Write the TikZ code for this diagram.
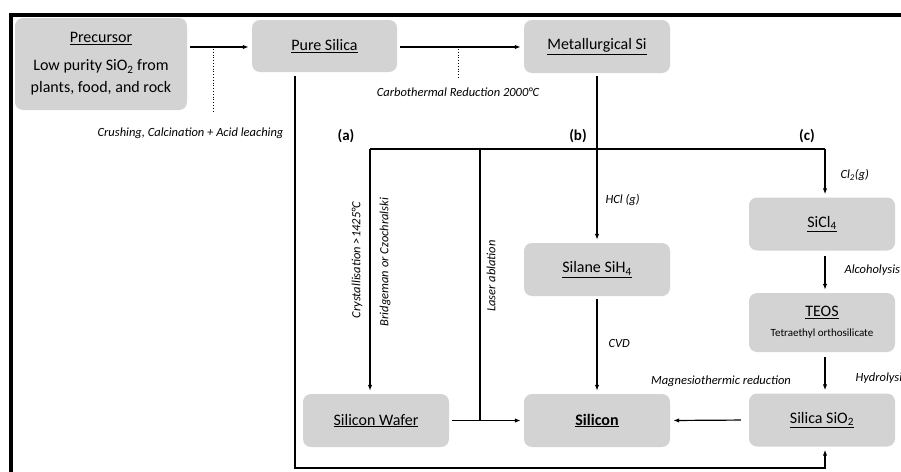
\documentclass[tikz,border=0pt]{standalone}
\usepackage{fontspec}
\setmainfont{Carlito}
\usetikzlibrary{arrows.meta,positioning}
\definecolor{boxgray}{RGB}{211,211,211}
\tikzset{
    stagebox/.style={rounded corners=8pt, fill=boxgray, align=center,
        minimum width=146pt, minimum height=53pt, font=\fontsize{16}{19}\selectfont},
    proc/.style={font=\fontsize{12.5}{14}\selectfont\itshape},
    branch/.style={font=\fontsize{15}{17}\selectfont\bfseries},
    flow/.style={line width=1.2pt},
    arr/.style={flow, -{Latex[length=6pt,width=4.5pt]}, shorten >=3pt},
}
\begin{document}
\begin{tikzpicture}[x=1pt,y=-1pt]
    \useasboundingbox (0,0) rectangle (901,471);
    \clip (0,0) rectangle (901,471);

    % Frame
    \draw[line width=4pt] (11,473) -- (11,14.5) -- (903,14.5);

    % Stages
    \node[stagebox, minimum width=172pt, minimum height=92pt, font=\fontsize{16}{22}\selectfont] (prec) at (101,64)
        {\underline{Precursor}\\[6pt]Low purity SiO\textsubscript{2} from\\plants, food, and rock};
    \node[stagebox, minimum width=145pt, minimum height=52pt] (pure) at (324.5,46) {\underline{Pure Silica}};
    \node[stagebox] (metal) at (597,46.5) {\underline{Metallurgical Si}};
    \node[stagebox] (silane) at (597,269.5) {\underline{Silane SiH\textsubscript{4}}};
    \node[stagebox] (sicl) at (822,224) {\underline{SiCl\textsubscript{4}}};
    \node[stagebox, minimum height=59pt] (teos) at (822,322.5)
        {\underline{TEOS}\\[1pt]{\fontsize{11}{13}\selectfont Tetraethyl orthosilicate}};
    \node[stagebox] (sio2) at (822,420) {\underline{Silica SiO\textsubscript{2}}};
    \node[stagebox] (silicon) at (597,420.5) {\underline{\textbf{Silicon}}};
    \node[stagebox] (wafer) at (376,420.5) {\underline{Silicon Wafer}};

    % Purification steps
    \draw[arr, shorten <=3pt] (prec.east |- 0,47) -- (pure.west |- 0,47);
    \draw[arr, shorten <=3pt] (pure.east |- 0,47) -- (metal.west |- 0,47);
    \coordinate (d1) at (213,49);
    \coordinate (d2) at (458,49);
    \draw[dotted, thick] (d1) -- ++(0,63);
    \draw[dotted, thick] (d2) -- ++(0,29);
    \node[proc, anchor=east] (crush) at (287,133) {Crushing, Calcination + Acid leaching};
    \node[proc] (carbo) at (458,92) {Carbothermal Reduction 2000°C};

    % Branches
    \coordinate (ta) at (370,149);
    \coordinate (tb) at (597,149);
    \coordinate (tc) at (825,149);
    \coordinate (tl) at (480,149);
    \coordinate (jl) at (480,420);
    \draw[flow] (ta) -- (tc);
    \node[branch] (la) at (346,136) {(a)};
    \node[branch] (lb) at (578,136) {(b)};
    \node[branch] (lc) at (807,136) {(c)};

    % (a) route
    \draw[arr] (ta) -- (ta |- wafer.north);
    \draw[flow] (tl) -- (jl);
    \draw[arr, shorten <=3pt] (wafer.east) -- (silicon.west);
    \node[proc, rotate=90] (cryst) at (357,260) {Crystallisation >1425°C};
    \node[proc, rotate=90] (bridg) at (385,262) {Bridgeman or Czochralski};
    \node[proc, rotate=90] (laser) at (491,276) {Laser ablation};

    % (b) route
    \draw[arr, shorten <=3pt] (metal.south) -- (silane.north);
    \draw[arr, shorten <=3pt] (silane.south) -- (silicon.north);
    \node[proc, anchor=west] (hcl) at (602,200) {HCl (g)};
    \node[proc, anchor=west] (cvd) at (605,343) {CVD};

    % (c) route
    \draw[arr] (tc) -- (tc |- sicl.north);
    \draw[arr, shorten <=5pt] (tc |- sicl.south) -- (tc |- teos.north);
    \draw[arr, shorten <=5pt] (tc |- teos.south) -- (tc |- sio2.north);
    \draw[arr, shorten <=8pt] (sio2.west) -- (silicon.east);
    \node[proc, anchor=west] (cl) at (837,175) {Cl\textsubscript{2}(g)};
    \node[proc, anchor=west] (alc) at (841,270) {Alcoholysis};
    \node[proc, anchor=west] (hyd) at (852,378) {Hydrolysis};
    \node[proc] (mag) at (721,381) {Magnesiothermic reduction};

    % Direct route
    \coordinate (p1) at (295,76);
    \coordinate (p2) at (295,468);
    \draw[arr] (p1) -- (p2) -- (tc |- p2) -- (tc |- sio2.south);
\end{tikzpicture}
\end{document}
